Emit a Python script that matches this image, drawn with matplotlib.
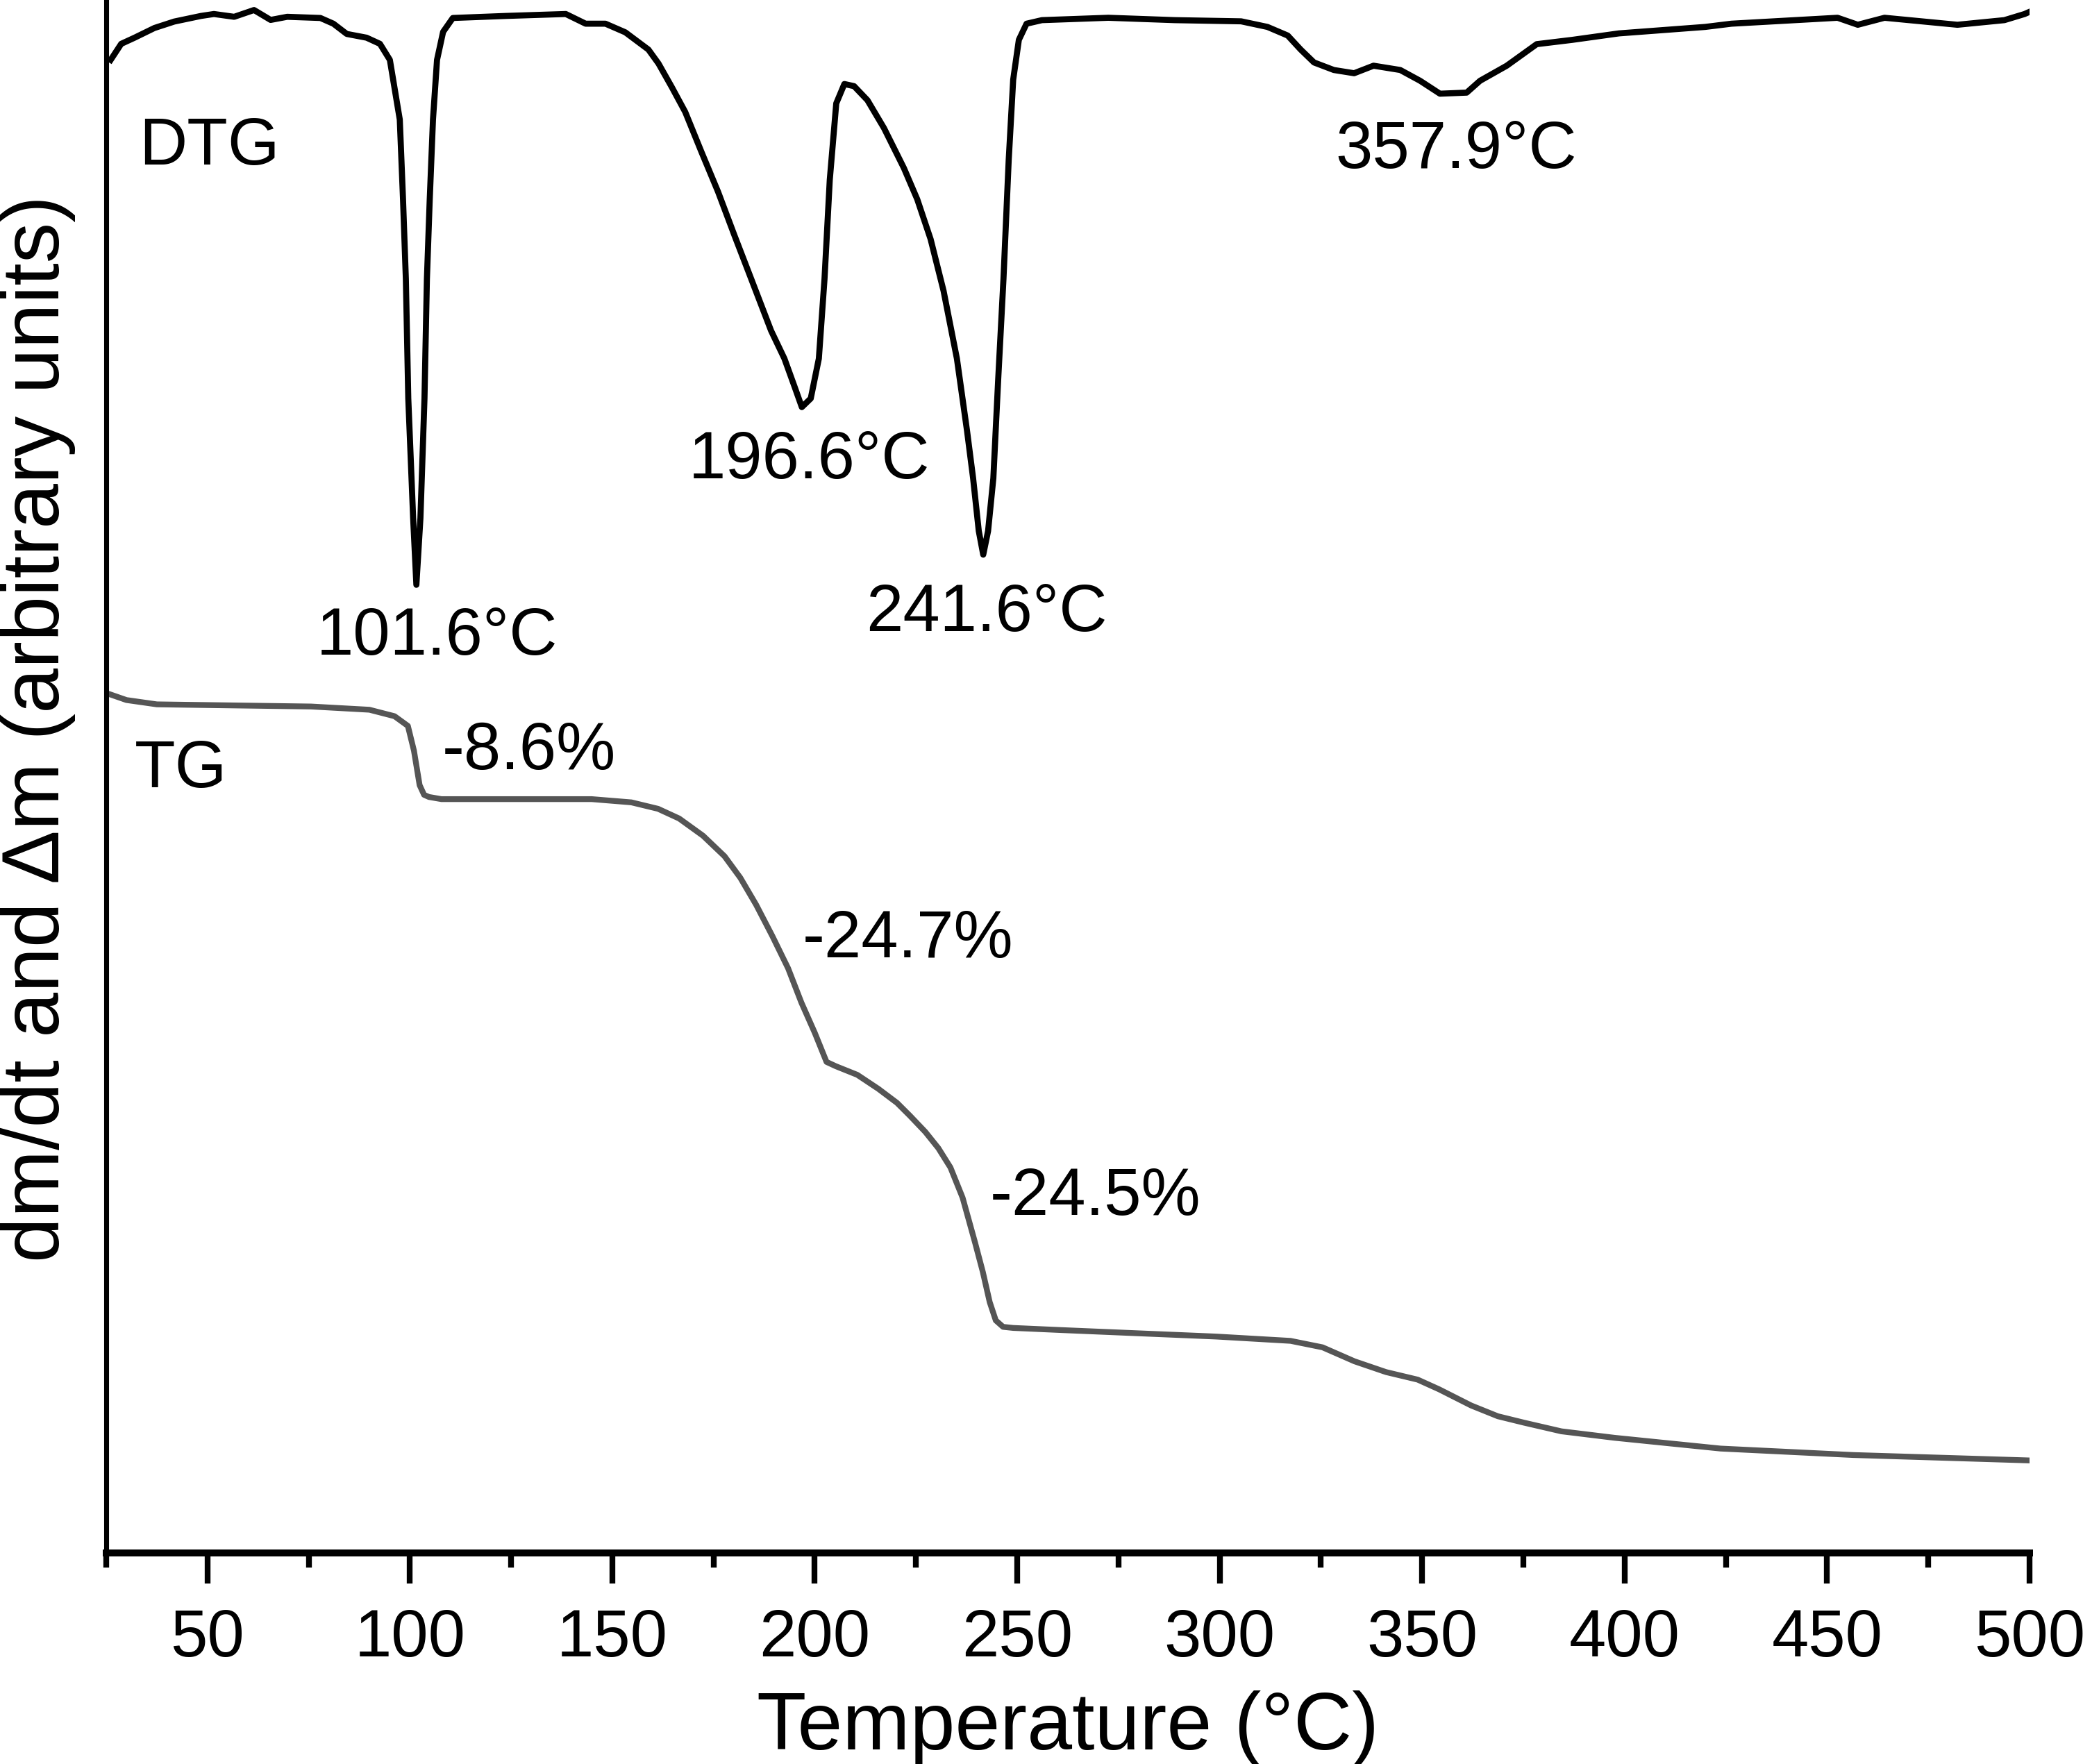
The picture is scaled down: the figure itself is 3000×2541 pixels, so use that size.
import numpy as np
import matplotlib
matplotlib.use("Agg")
import matplotlib.pyplot as plt
from matplotlib.ticker import MultipleLocator

plt.rcParams['font.family'] = ['Liberation Sans', 'DejaVu Sans']

# DTG signal (arbitrary units, 0 = baseline, negative = mass loss rate)
dtg_temp = [26.1, 28.7, 32.0, 36.9, 41.8, 48.4, 51.6, 56.6, 61.5, 65.6,
            69.7, 77.9, 81.1, 84.4, 89.3, 92.6, 95.05, 97.5, 98.3, 99.0,
            99.6, 100.8, 101.6, 102.6, 103.6, 104.2, 104.9, 105.7, 106.7, 108.2,
            110.6, 123.7, 138.5, 143.4, 148.3, 153.2, 158.9, 161.4, 164.7, 168.0,
            172.0, 176.1, 180.2, 184.3, 189.2, 192.5, 195.0, 196.8, 199.0, 201.0,
            202.4, 203.7, 205.3, 207.3, 209.7, 213.0, 217.1, 222.0, 225.3, 228.6,
            231.8, 235.1, 237.6, 239.1, 240.5, 241.6, 242.8, 244.1, 245.3, 246.6,
            247.9, 249.0, 250.4, 252.3, 256.1, 272.5, 288.9, 305.3, 311.8, 316.8,
            320.0, 323.3, 328.2, 333.2, 338.0, 344.6, 349.5, 354.4, 361.0, 364.3,
            370.9, 378.3, 387.1, 398.6, 419.9, 426.4, 452.6, 457.6, 464.2, 482.2,
            493.8, 498.8, 500]
dtg_val = [-5.56, -4.07, -3.5, -2.6, -2.0, -1.48, -1.3, -1.56, -0.93, -1.85,
           -1.56, -1.67, -2.2, -3.15, -3.5, -4.07, -5.56, -11.1, -18.5, -25.9,
           -37.0, -48.1, -54.3, -48.1, -37.0, -25.9, -18.5, -11.1, -5.56, -2.96,
           -1.67, -1.48, -1.3, -2.2, -2.2, -3.0, -4.6, -5.9, -8.1, -10.4,
           -14.1, -17.8, -21.9, -25.9, -30.7, -33.3, -35.9, -37.8, -37.0, -33.3,
           -25.9, -16.7, -9.6, -7.8, -8.0, -9.3, -11.9, -15.6, -18.5, -22.2,
           -27.0, -33.3, -40.0, -44.4, -49.3, -51.5, -49.3, -44.4, -35.2, -25.9,
           -14.8, -7.4, -3.7, -2.2, -1.87, -1.65, -1.87, -1.98, -2.5, -3.3,
           -4.6, -5.8, -6.5, -6.8, -6.1, -6.5, -7.5, -8.7, -8.6, -7.5,
           -6.1, -4.1, -3.7, -3.1, -2.5, -2.2, -1.65, -2.3, -1.65, -2.3,
           -1.87, -1.3, -1.1]

# TG residual mass (%)
tg_temp = [25.4, 30, 37.5, 75.6, 90, 96.2, 99.5, 101, 102.4, 103.5,
           104.7, 107.8, 130, 144.9, 154.7, 161.3, 166.5, 172.4, 177.7, 181.6,
           185.5, 189.5, 193.4, 196.7, 200.0, 202.9, 205.2, 210.5, 215.7, 220.3,
           223.5, 227.3, 230.5, 233.5, 236.5, 239.6, 241.5, 243.2, 244.7, 246.5,
           249, 261, 280, 299.1, 317.5, 325.4, 333.3, 341.1, 348.9, 354.2,
           362.1, 368.7, 375.2, 384.4, 397.5, 423.7, 456.5, 499.8]
tg_mass = [100.0, 99.4, 99.0, 98.8, 98.5, 97.9, 97.0, 94.7, 91.5, 90.6,
           90.4, 90.2, 90.2, 90.2, 89.9, 89.3, 88.4, 86.8, 84.9, 82.9,
           80.4, 77.5, 74.5, 71.3, 68.5, 65.8, 65.4, 64.6, 63.3, 62.0,
           60.8, 59.3, 57.8, 56.0, 53.2, 49.0, 46.3, 43.5, 41.8, 41.2,
           41.1, 40.9, 40.6, 40.3, 39.9, 39.3, 38.0, 37.0, 36.3, 35.4,
           33.9, 32.9, 32.3, 31.5, 30.9, 29.9, 29.3, 28.8]

peak_labels = ["101.6°C", "196.6°C", "241.6°C", "357.9°C"]
peak_x = [106.7, 198.6, 242.5, 358.4]
peak_y = [103.6, 120.0, 105.8, 148.8]

step_labels = ["-8.6%", "-24.7%", "-24.5%"]
step_x = [129.4, 223.0, 269.3]
step_y = [93.0, 75.5, 51.6]

DTG_SHIFT = 164.4

fig = plt.figure(figsize=(10, 8.47), dpi=300)
ax = fig.add_axes([0.051, 0.1196, 0.9233, 0.8804])

ax.plot(dtg_temp, np.array(dtg_val) + DTG_SHIFT, color='black', lw=2.1,
        solid_joinstyle='round')
ax.plot(tg_temp, tg_mass, color='#555555', lw=2.0, solid_joinstyle='round')

ax.text(33.1, 149.1, "DTG", fontsize=23, ha='left', va='baseline')
ax.text(32.0, 91.3, "TG", fontsize=23, ha='left', va='baseline')
for s, x, y in zip(peak_labels, peak_x, peak_y):
    ax.text(x, y, s, fontsize=23, ha='center', va='baseline')
for s, x, y in zip(step_labels, step_x, step_y):
    ax.text(x, y, s, fontsize=23, ha='center', va='baseline')

ax.set_xlim(25, 500)
ax.set_ylim(20.2, 164.4)
ax.xaxis.set_major_locator(MultipleLocator(50))
ax.xaxis.set_minor_locator(MultipleLocator(25))
ax.set_yticks([])

for side in ['top', 'right']:
    ax.spines[side].set_visible(False)
ax.spines['left'].set_linewidth(1.7)
ax.spines['bottom'].set_linewidth(2.4)

ax.tick_params(axis='x', which='major', direction='out', length=10.5, width=2,
               labelsize=23, pad=8.5)
ax.tick_params(axis='x', which='minor', direction='out', length=5, width=2)

ax.set_xlabel("Temperature (°C)", fontsize=28, labelpad=7)
ax.set_ylabel("dm/dt and \u0394m (arbitrary units)", fontsize=28)
ax.yaxis.set_label_coords(-0.016, 0.531)

fig.savefig("out.png", dpi=300)
